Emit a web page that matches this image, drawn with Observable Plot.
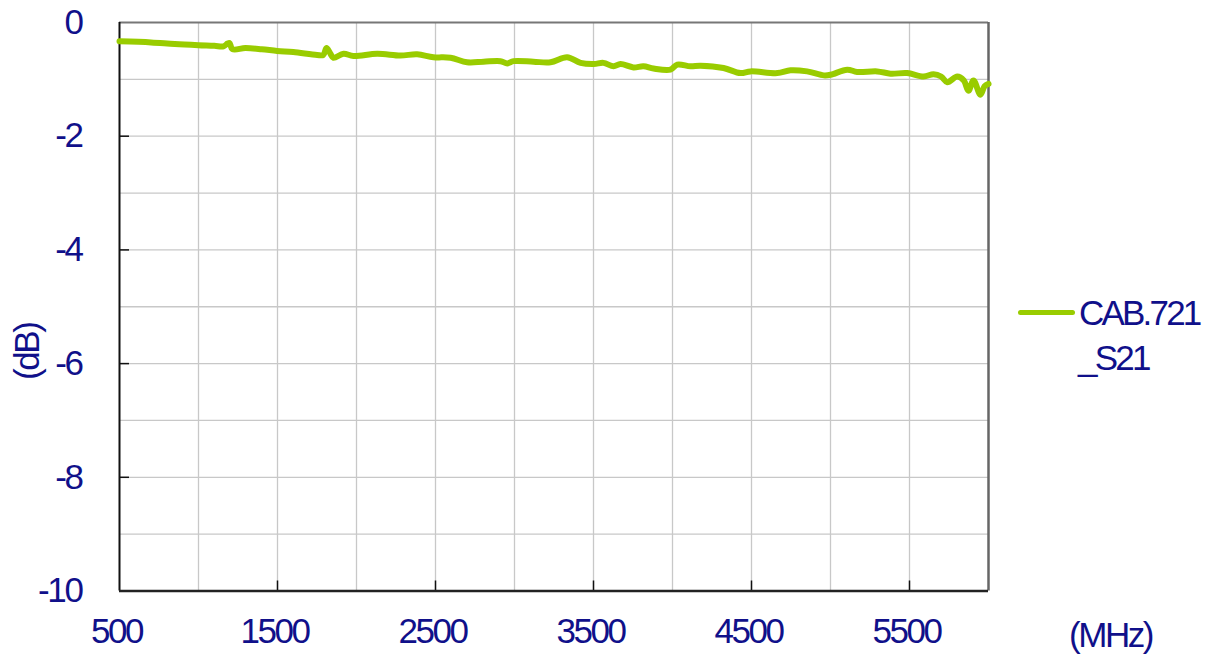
<!DOCTYPE html>
<html>
<head>
<meta charset="utf-8">
<script src="https://cdn.jsdelivr.net/npm/d3@7"></script>
<script src="https://cdn.jsdelivr.net/npm/@observablehq/plot@0.6"></script>
<style>
  html, body { margin: 0; padding: 0; background: #fff; }
  #wrap { position: relative; width: 1212px; height: 657px; overflow: hidden; }
  #wrap svg text { letter-spacing: -2.4px; }
  #legend { position: absolute; left: 1018px; top: 290px; font-family: "Liberation Sans", Arial, sans-serif;
            font-size: 35px; line-height: 45px; color: #10108a; letter-spacing: -2.8px; }
  #legend .row { display: flex; align-items: center; white-space: nowrap; }
  #legend .sw { display: inline-block; width: 57px; height: 5.5px; border-radius: 3px; background: #99cc00; margin-right: 4px; }
  #legend .l2 { padding-left: 60px; }
</style>
</head>
<body>
<div id="wrap">
  <div id="chart"></div>
  <div id="legend">
    <div class="row"><span class="sw"></span><span>CAB.721</span></div>
    <div class="row l2">_S21</div>
  </div>
</div>
<script>
// Frequency (MHz) and S21 (dB)
const freq = [500, 700, 850, 1000, 1100, 1158, 1184, 1196, 1215, 1297, 1400, 1498, 1600, 1751, 1790, 1810, 1835, 1854, 1918, 1981, 2131, 2278, 2384, 2487, 2595, 2700, 2804, 2911, 2954, 2994, 3120, 3228, 3333, 3418, 3502, 3563, 3627, 3671, 3753, 3816, 3880, 3987, 4030, 4114, 4177, 4323, 4430, 4494, 4663, 4747, 4852, 4958, 5000, 5106, 5169, 5296, 5380, 5485, 5589, 5652, 5700, 5739, 5802, 5844, 5873, 5905, 5949, 5975, 6000];
const s21  = [-0.33, -0.35, -0.38, -0.40, -0.41, -0.42, -0.37, -0.36, -0.47, -0.45, -0.47, -0.50, -0.52, -0.57, -0.57, -0.45, -0.55, -0.62, -0.55, -0.59, -0.55, -0.58, -0.56, -0.61, -0.62, -0.70, -0.69, -0.68, -0.72, -0.68, -0.69, -0.70, -0.61, -0.71, -0.73, -0.71, -0.77, -0.73, -0.79, -0.77, -0.81, -0.83, -0.74, -0.77, -0.76, -0.80, -0.89, -0.86, -0.89, -0.84, -0.86, -0.93, -0.92, -0.83, -0.87, -0.86, -0.90, -0.89, -0.95, -0.91, -0.95, -1.05, -0.95, -1.02, -1.20, -1.02, -1.27, -1.12, -1.08];

const xDomain = [500, 6000];
const yDomain = [-10, 0];
const xTickLabels = [500, 1500, 2500, 3500, 4500, 5500];
const xGridLines = [1000, 1500, 2000, 2500, 3000, 3500, 4000, 4500, 5000, 5500];
const yTickLabels = [0, -2, -4, -6, -8, -10];
const yGridLines = [-1, -2, -3, -4, -5, -6, -7, -8, -9];
const seriesName = "CAB.721_S21";
const xUnit = "(MHz)";
const yUnit = "(dB)";

const data = freq.map((f, i) => ({f, v: s21[i]}));
const navy = "#10108a";

const W = 1212, H = 657, mL = 119, mR = 224, mT = 22, mB = 66.5;
const innerW = W - mL - mR, innerH = H - mT - mB;
const tickLen = 10;

const chart = Plot.plot({
  width: W,
  height: H,
  marginLeft: mL,
  marginRight: mR,
  marginTop: mT,
  marginBottom: mB,
  style: {fontFamily: "'Liberation Sans', Arial, sans-serif", fontSize: "35px", color: navy, background: "white", overflow: "visible"},
  x: {domain: xDomain},
  y: {domain: yDomain},
  marks: [
    Plot.gridX(xGridLines, {stroke: "#c8c8c8", strokeOpacity: 1, strokeWidth: 1.3}),
    Plot.gridY(yGridLines, {stroke: "#c8c8c8", strokeOpacity: 1, strokeWidth: 1.3}),
    Plot.axisX(xTickLabels, {tickSize: 0, tickPadding: 27, tickFormat: d => String(d), dx: -3, label: null}),
    Plot.axisY(yTickLabels, {tickSize: 0, tickPadding: 38, tickFormat: d => String(d), label: null}),
    Plot.tickX(xTickLabels.slice(1), {x: d => d, insetTop: innerH - tickLen, stroke: "#111", strokeWidth: 1.5}),
    Plot.tickY(yTickLabels.slice(1, -1), {y: d => d, insetRight: innerW - tickLen, stroke: "#111", strokeWidth: 1.5}),
    Plot.ruleY([yDomain[1]], {stroke: "#777", strokeWidth: 2}),
    Plot.ruleX([xDomain[1]], {stroke: "#666", strokeWidth: 2.5}),
    Plot.ruleX([xDomain[0]], {stroke: "#111", strokeWidth: 2}),
    Plot.ruleY([yDomain[0]], {stroke: "#222", strokeWidth: 2.5}),
    Plot.line(data, {x: "f", y: "v", stroke: "#99cc00", strokeWidth: 6, curve: "catmull-rom", strokeLinejoin: "round", strokeLinecap: "round"}),
    Plot.text([xUnit], {text: d => d, frameAnchor: "bottom-right", dx: 122, dy: 45, textAnchor: "middle", lineAnchor: "middle"}),
    Plot.text([yUnit], {text: d => d, frameAnchor: "left", dx: -92, dy: 45, rotate: -90, textAnchor: "middle", lineAnchor: "middle"})
  ]
});
document.getElementById("chart").appendChild(chart);
</script>
</body>
</html>
